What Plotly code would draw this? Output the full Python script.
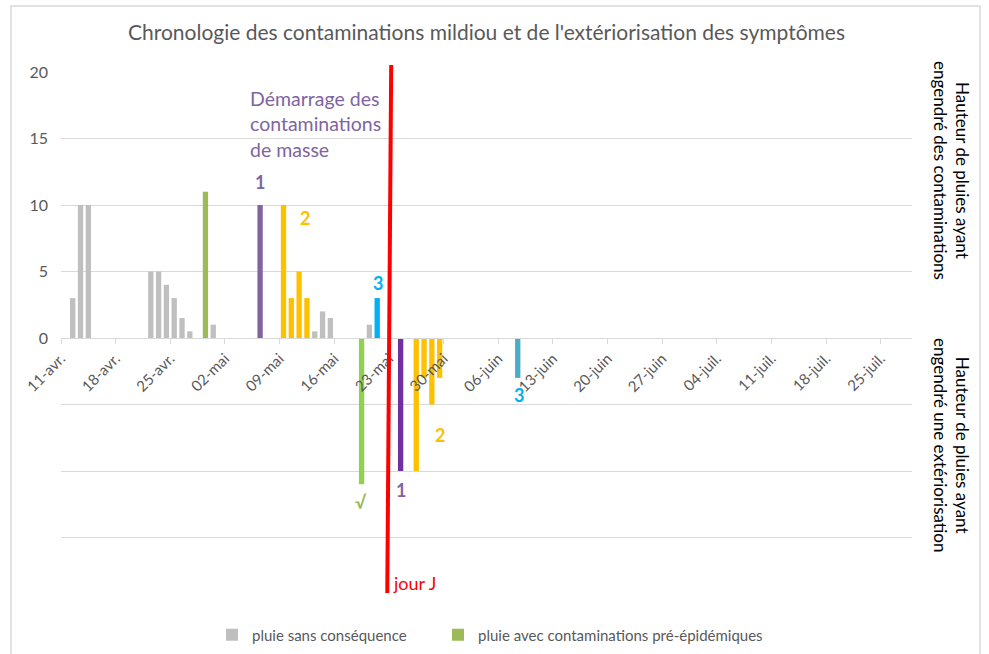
import pandas as pd
import plotly.graph_objects as go

# ---------------- data ----------------
gray_dates = ["2021-04-12", "2021-04-13", "2021-04-14", "2021-04-22", "2021-04-23", "2021-04-24",
              "2021-04-25", "2021-04-26", "2021-04-27", "2021-04-30", "2021-05-13", "2021-05-14",
              "2021-05-15", "2021-05-20"]
gray_vals = [3, 10, 10, 5, 5, 4, 3, 1.5, 0.5, 1, 0.5, 2, 1.5, 1]

green_dates = ["2021-04-29"]
green_vals = [11]

c1_dates = ["2021-05-06"]
c1_vals = [10]
c2_dates = ["2021-05-09", "2021-05-10", "2021-05-11", "2021-05-12"]
c2_vals = [10, 3, 5, 3]
c3_dates = ["2021-05-21"]
c3_vals = [3]

ext_green_dates = ["2021-05-19"]
ext_green_vals = [-11]
ext1_dates = ["2021-05-24"]
ext1_vals = [-10]
ext2_dates = ["2021-05-26", "2021-05-27", "2021-05-28", "2021-05-29"]
ext2_vals = [-10, -3, -5, -3]
ext3_dates = ["2021-06-08"]
ext3_vals = [-3]

tick_dates = ["2021-04-11", "2021-04-18", "2021-04-25", "2021-05-02", "2021-05-09", "2021-05-16",
              "2021-05-23", "2021-05-30", "2021-06-06", "2021-06-13", "2021-06-20", "2021-06-27",
              "2021-07-04", "2021-07-11", "2021-07-18", "2021-07-25"]
tick_labels = ["11-avr.", "18-avr.", "25-avr.", "02-mai", "09-mai", "16-mai", "23-mai", "30-mai",
               "06-juin", "13-juin", "20-juin", "27-juin", "04-juil.", "11-juil.", "18-juil.", "25-juil."]

x_range = ["2021-04-11", "2021-07-29"]
jour_j_top = "2021-05-23 07:00"
jour_j_bottom = "2021-05-22 19:00"

title = "Chronologie des contaminations mildiou et de l'extériorisation des symptômes"
right_label_top = "Hauteur de pluies ayant<br>engendré des contaminations"
right_label_bottom = "Hauteur de pluies ayant<br>engendré une extériorisation"

# --------------- figure ---------------
FONT = "Lato, 'Open Sans', sans-serif"
DAY = 86400000
W = 0.68 * DAY


def mid(dates):
    return pd.to_datetime(dates) + pd.Timedelta(hours=12)


fig = go.Figure()


def add_bar(dates, vals, color, name=None, show=False, legend="legend"):
    fig.add_trace(go.Bar(x=mid(dates), y=vals, width=[W] * len(vals), marker_color=color,
                         marker_line_width=0, name=name, showlegend=show, legend=legend,
                         hoverinfo="x+y"))


add_bar(gray_dates, gray_vals, "#BFBFBF", "pluie sans conséquence", True, "legend")
add_bar(green_dates, green_vals, "#9BBB59", "pluie avec contaminations pré-épidémiques", True, "legend2")
add_bar(c1_dates, c1_vals, "#8064A2")
add_bar(c2_dates, c2_vals, "#FFC000")
add_bar(c3_dates, c3_vals, "#00B0F0")
add_bar(ext_green_dates, ext_green_vals, "#92D050")
add_bar(ext1_dates, ext1_vals, "#7030A0")
add_bar(ext2_dates, ext2_vals, "#FFC000")
add_bar(ext3_dates, ext3_vals, "#4BACC6")

grid_vals = [-20, -15, -10, -5, 0, 5, 10, 15, 20]
grid_text = ["" if v < 0 else str(v) for v in grid_vals]

leg_common = dict(orientation="h", xref="container", yref="container", xanchor="left",
                  yanchor="middle", y=(654 - 635) / 654, font=dict(size=15, color="#595959"),
                  bgcolor="rgba(0,0,0,0)")

fig.update_layout(
    width=989, height=654,
    margin=dict(l=61, r=77, t=72, b=50),
    paper_bgcolor="white", plot_bgcolor="white",
    barmode="overlay",
    font=dict(family=FONT, color="#595959"),
    title=dict(text=title, x=0.5, xref="paper", y=1 - 33 / 654, yanchor="middle",
               font=dict(size=21, color="#595959", family=FONT)),
    xaxis=dict(type="date", range=x_range, tickmode="array", tickvals=tick_dates, ticktext=tick_labels,
               tickangle=-45, tickfont=dict(size=15, color="#595959"), showgrid=False,
               anchor="free", position=0.5, showline=True, linecolor="#D9D9D9", linewidth=1,
               ticks="outside", ticklen=5, tickcolor="#D9D9D9", zeroline=False, automargin=False),
    yaxis=dict(range=[-20, 20], tickmode="array", tickvals=grid_vals, ticktext=grid_text,
               showgrid=True, gridcolor="#D9D9D9", gridwidth=1, zeroline=False, showline=False,
               tickfont=dict(size=16, color="#595959"), ticks="", ticklabelstandoff=12,
               automargin=False),
    legend=dict(x=212 / 989, **leg_common),
    legend2=dict(x=438 / 989, **leg_common),
    showlegend=True,
)

# chart frame
fig.add_shape(type="rect", xref="paper", yref="paper",
              x0=(11 - 61) / 851, x1=(980 - 61) / 851, y0=(604 - 670) / 532, y1=(604 - 6) / 532,
              line=dict(color="#D9D9D9", width=1.5), fillcolor="rgba(0,0,0,0)", layer="below")

# jour J line
fig.add_shape(type="line", xref="x", yref="paper", x0=jour_j_bottom, x1=jour_j_top,
              y0=(604 - 593) / 532, y1=(604 - 65) / 532, line=dict(color="#FF0000", width=4))


def ann(text, x, y, color, size=18, bold=True, xanchor="center"):
    t = f"<b>{text}</b>" if bold else text
    fig.add_annotation(text=t, x=x, y=y, xref="x", yref="y", showarrow=False, align="left",
                       font=dict(size=size, color=color, family=FONT), xanchor=xanchor, yanchor="middle")


ann("Démarrage des<br>contaminations<br>de masse", "2021-05-05", 16.1, "#8064A2", size=19.5,
    bold=False, xanchor="left")
ann("1", "2021-05-06 12:00", 11.7, "#8064A2")
ann("2", "2021-05-12 07:00", 9.0, "#FFC000")
ann("3", "2021-05-21 14:00", 4.1, "#00B0F0")
ann("√", "2021-05-19 10:00", -12.3, "#9BBB59")
ann("1", "2021-05-24 12:00", -11.4, "#8064A2")
ann("2", "2021-05-29 14:00", -7.3, "#FFC000")
ann("3", "2021-06-08 16:00", -4.3, "#00B0F0")
ann("jour J", "2021-05-23 05:00", -18.4, "#FF0000", size=18, bold=False, xanchor="left")

# right-side labels
for txt, yc in [(right_label_top, 170), (right_label_bottom, 445)]:
    fig.add_annotation(text=txt, x=(952 - 61) / 851, y=(604 - yc) / 532, xref="paper",
                       yref="paper", showarrow=False, textangle=90, xanchor="center",
                       yanchor="middle", align="center",
                       font=dict(size=17, color="#000000", family=FONT))

fig.write_html("out.html", config={"displayModeBar": False},
               post_script="document.body.style.margin='0';")
